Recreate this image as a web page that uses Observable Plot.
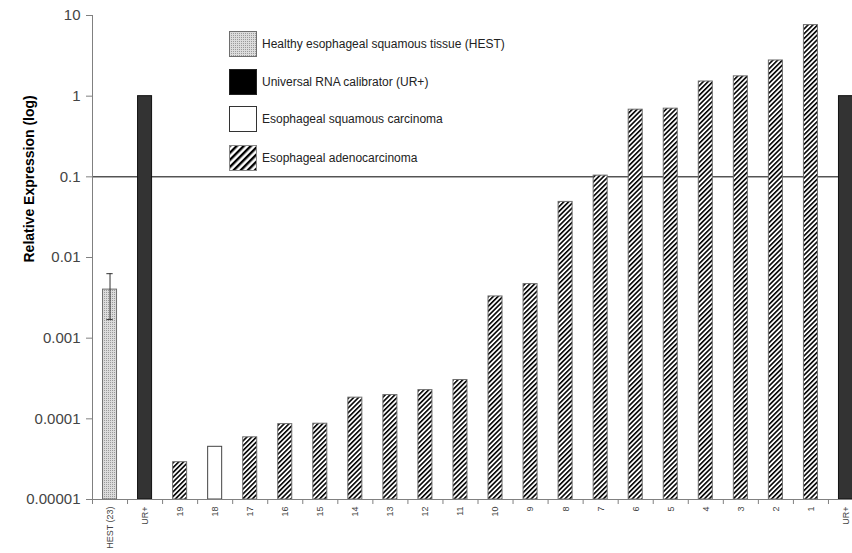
<!DOCTYPE html>
<html>
<head>
<meta charset="utf-8">
<script src="https://cdn.jsdelivr.net/npm/d3@7"></script>
<script src="https://cdn.jsdelivr.net/npm/@observablehq/plot@0.6"></script>
<style>
  body { margin: 0; background: #fff; }
  #wrap { position: relative; width: 852px; height: 553px; overflow: hidden; font-family: "Liberation Sans", Arial, sans-serif; }
  #legend { position: absolute; left: 0; top: 0; }
  .lrow { position: absolute; left: 229px; height: 26px; display: flex; align-items: center; white-space: nowrap; }
  .lrow span { margin-left: 5px; font-size: 12px; color: #222; }
</style>
</head>
<body>
<div id="wrap"><div id="legend"></div></div>
<script>
// ---- data ----
const categories = ["HEST (23)", "UR+", "19", "18", "17", "16", "15", "14", "13", "12", "11", "10", "9", "8", "7", "6", "5", "4", "3", "2", "1", "UR+"];
const values = [0.004, 1, 0.000029, 0.000045, 0.000059, 0.000086, 0.000087, 0.000183, 0.000197, 0.000227, 0.000303, 0.00329, 0.00468, 0.0489, 0.1035, 0.68, 0.70, 1.52, 1.76, 2.77, 7.6, 1.0];
const groups = ["HEST", "UR", "EAC", "ESCC", "EAC", "EAC", "EAC", "EAC", "EAC", "EAC", "EAC", "EAC", "EAC", "EAC", "EAC", "EAC", "EAC", "EAC", "EAC", "EAC", "EAC", "UR"];
const hestError = [0.0017, 0.0063];
const yTicks = [1e-5, 1e-4, 1e-3, 1e-2, 1e-1, 1, 10];
const yTickLabels = ["0.00001", "0.0001", "0.001", "0.01", "0.1", "1", "10"];
const referenceLine = [0.1];
const legendGroups = ["HEST", "UR", "ESCC", "EAC"];
const legendLabels = ["Healthy esophageal squamous tissue (HEST)", "Universal RNA calibrator (UR+)", "Esophageal squamous carcinoma", "Esophageal adenocarcinoma"];

const rows = categories.map((c, i) => ({i, label: c, value: values[i], group: groups[i]}));

const styleFor = {
  HEST: {fill: "url(#stipple)", stroke: "#6e6e6e"},
  UR:   {fill: "#333333", stroke: "#111111"},
  ESCC: {fill: "#ffffff", stroke: "#444444"},
  EAC:  {fill: "url(#hatch)", stroke: "#6e6e6e"}
};
const legendStyle = {
  HEST: {fill: "url(#stipple)", stroke: "#6e6e6e"},
  UR:   {fill: "#000000", stroke: "#222"},
  ESCC: {fill: "#ffffff", stroke: "#333"},
  EAC:  {fill: "url(#hatchL)", stroke: "#888"}
};

const barMarks = ["HEST", "UR", "ESCC", "EAC"].map(g =>
  Plot.rectY(rows.filter(d => d.group === g), {
    x1: d => d.i + 0.3, x2: d => d.i + 0.7, y1: 1e-5, y2: "value",
    fill: styleFor[g].fill, stroke: styleFor[g].stroke, strokeWidth: 1
  })
);

const chart = Plot.plot({
  width: 852, height: 553,
  marginTop: 15, marginBottom: 54, marginLeft: 92, marginRight: 0,
  x: {type: "linear", domain: [0, 22], range: [92, 863], axis: null},
  y: {type: "log", domain: [1e-5, 10], axis: null},
  style: {fontFamily: "Liberation Sans, Arial, sans-serif", background: "#fff", overflow: "hidden"},
  marks: [
    Plot.ruleY(referenceLine, {stroke: "#000", strokeWidth: 1}),
    ...barMarks,
    Plot.ruleX([hestError], {x: 0.5, y1: d => d[0], y2: d => d[1], stroke: "#333"}),
    Plot.ruleY(hestError, {y: d => d, x1: 0.41, x2: 0.59, stroke: "#333"}),
    Plot.ruleX([0], {stroke: "#808080"}),
    Plot.ruleY([1e-5], {stroke: "#808080"}),
    Plot.axisY({ticks: yTicks, tickFormat: d => yTickLabels[Math.round(Math.log10(d)) + 5], tickSize: 6, tickPadding: 6, fontSize: 15, stroke: "#808080", fill: "#444", label: null}),
    Plot.axisX({ticks: d3.range(23), tickFormat: () => "", tickSize: 5, stroke: "#808080", label: null}),
    Plot.axisX({ticks: d3.range(22).map(i => i + 0.5), tickFormat: d => categories[Math.floor(d)], tickSize: 0, tickPadding: 7, tickRotate: -90, fontSize: 9, fill: "#444", label: null}),
    Plot.text(["Relative Expression (log)"], {frameAnchor: "left", dx: -63, dy: 5, rotate: -90, fontWeight: "bold", fontSize: 14, fill: "#000"})
  ]
});

chart.insertAdjacentHTML("afterbegin", `
<defs>
  <pattern id="hatch" patternUnits="userSpaceOnUse" width="3.4" height="3.4" patternTransform="rotate(45)">
    <rect width="3.4" height="3.4" fill="#fff"/>
    <line x1="0.8" y1="0" x2="0.8" y2="3.4" stroke="#000" stroke-width="1.6"/>
  </pattern>
  <pattern id="hatchL" patternUnits="userSpaceOnUse" width="5" height="5" patternTransform="rotate(45)">
    <rect width="5" height="5" fill="#fff"/>
    <line x1="1.2" y1="0" x2="1.2" y2="5" stroke="#000" stroke-width="2.4"/>
  </pattern>
  <pattern id="stipple" patternUnits="userSpaceOnUse" width="2" height="2">
    <rect width="2" height="2" fill="#dcdcdc"/>
    <rect width="1" height="1" fill="#9a9a9a"/>
  </pattern>
</defs>`);

const wrap = document.getElementById("wrap");
wrap.insertBefore(chart, wrap.firstChild);

const legend = document.getElementById("legend");
const rowTops = [31, 69, 106, 145];
legendGroups.forEach((g, k) => {
  const row = document.createElement("div");
  row.className = "lrow";
  row.style.top = rowTops[k] + "px";
  const s = legendStyle[g];
  row.innerHTML = `<svg width="28" height="26"><rect x="0.5" y="0.5" width="27" height="25" fill="${s.fill}" stroke="${s.stroke}"/></svg><span>${legendLabels[k]}</span>`;
  legend.appendChild(row);
});
</script>
</body>
</html>
